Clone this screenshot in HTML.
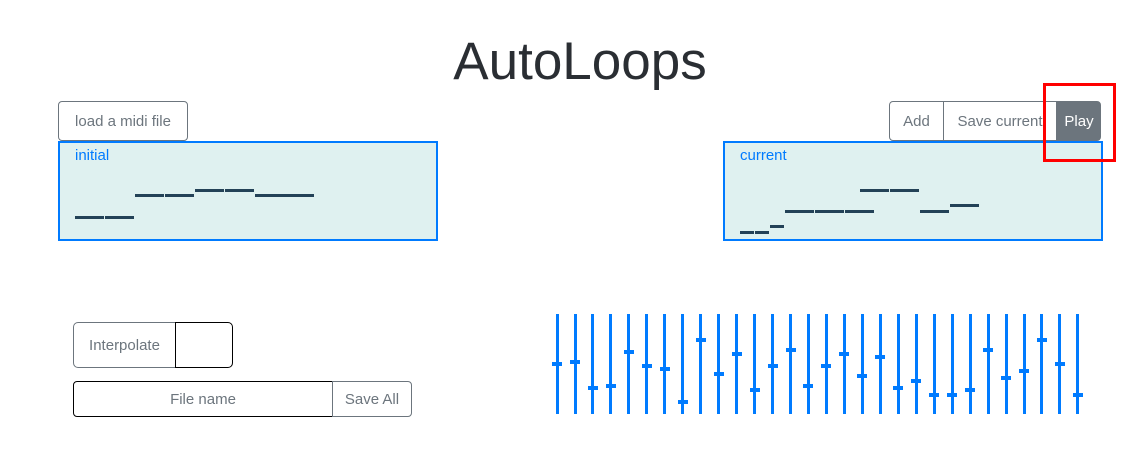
<!DOCTYPE html>
<html><head><meta charset="utf-8"><style>
body{margin:0;width:1141px;height:459px;background:#fff;position:relative;overflow:hidden;font-family:"Liberation Sans","DejaVu Sans",sans-serif;}
.a{position:absolute;box-sizing:border-box;}
.btn{border:1px solid #6c757d;color:#6c757d;font-size:15px;display:flex;align-items:center;justify-content:center;background:#fff;}
.box{border:2px solid #007bff;background:#dff1f0;}
.n{position:absolute;height:3px;background:#234257;}
.lbl{position:absolute;color:#007bff;font-size:15px;}
.l{position:absolute;width:3px;top:314px;height:100px;background:#007bff;}
.t{position:absolute;width:10px;height:4px;background:#007bff;}
</style></head><body>
<div class="a" style="left:0;width:1141px;top:29px;text-align:center;font-size:53px;color:#2a2e33;font-weight:300;line-height:66px;padding-left:19px;">AutoLoops</div>

<div class="a btn" style="left:58px;top:101px;width:130px;height:40px;border-radius:4px;">load a midi file</div>
<div class="a box" style="left:58px;top:141px;width:380px;height:100px;"></div>
<div class="lbl" style="left:75px;top:147px;">initial</div>
<div class="n" style="left:135px;top:194px;width:29px"></div>
<div class="n" style="left:165px;top:194px;width:29px"></div>
<div class="n" style="left:195px;top:189px;width:29px"></div>
<div class="n" style="left:225px;top:189px;width:29px"></div>
<div class="n" style="left:255px;top:194px;width:59px"></div>
<div class="n" style="left:75px;top:216px;width:29px"></div>
<div class="n" style="left:105px;top:216px;width:29px"></div>

<div class="a btn" style="left:889px;top:101px;width:55px;height:40px;border-radius:4px 0 0 4px;">Add</div>
<div class="a btn" style="left:943px;top:101px;width:114px;height:40px;">Save current</div>
<div class="a btn" style="left:1057px;top:101px;width:44px;height:40px;background:#6c757d;color:#fff;border-radius:0 4px 4px 0;">Play</div>
<div class="a box" style="left:723px;top:141px;width:380px;height:100px;"></div>
<div class="lbl" style="left:740px;top:147px;">current</div>
<div class="n" style="left:860px;top:189px;width:29px"></div>
<div class="n" style="left:890px;top:189px;width:29px"></div>
<div class="n" style="left:785px;top:210px;width:29px"></div>
<div class="n" style="left:815px;top:210px;width:29px"></div>
<div class="n" style="left:845px;top:210px;width:29px"></div>
<div class="n" style="left:920px;top:210px;width:29px"></div>
<div class="n" style="left:950px;top:204px;width:29px"></div>
<div class="n" style="left:740px;top:231px;width:14px"></div>
<div class="n" style="left:755px;top:231px;width:14px"></div>
<div class="n" style="left:770px;top:225px;width:14px"></div>
<div class="a" style="left:1043px;top:83px;width:73px;height:79px;border:3px solid #f00;"></div>

<div class="a btn" style="left:73px;top:322px;width:103px;height:46px;border-radius:5px 0 0 5px;">Interpolate</div>
<div class="a" style="left:175px;top:322px;width:58px;height:46px;border:1px solid #000;border-radius:0 5px 5px 0;"></div>
<div class="a" style="left:73px;top:381px;width:260px;height:36px;border:1px solid #000;border-radius:4px 0 0 4px;display:flex;align-items:center;justify-content:center;color:#6c757d;font-size:15px;">File name</div>
<div class="a btn" style="left:332px;top:381px;width:80px;height:36px;border-radius:0 4px 4px 0;">Save All</div>

<div id="s"></div>
<script>
var ys=[364,362,388,386,352,366,369,402,340,374,354,390,366,350,386,366,354,376,357,388,381,395,395,390,350,378,371,340,364,395];
var h='';
for(var i=0;i<30;i++){var x=555.5+i*17.96;h+='<div class="l" style="left:'+x.toFixed(1)+'px"></div><div class="t" style="left:'+(x-3.5).toFixed(1)+'px;top:'+(ys[i]-2)+'px"></div>';}
document.getElementById('s').innerHTML=h;
</script>
</body></html>
